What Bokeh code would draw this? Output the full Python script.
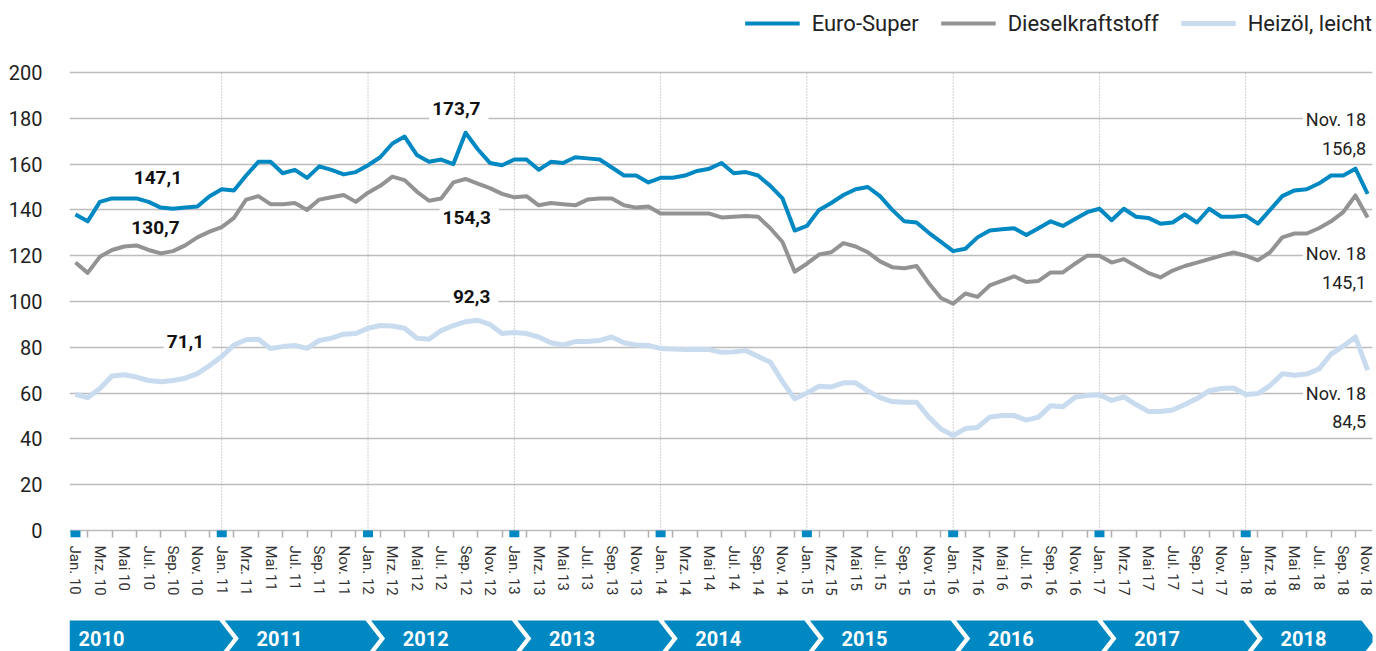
from bokeh.plotting import figure
from bokeh.models import Range1d, FixedTicker, Legend, LegendItem, ColumnDataSource
from bokeh.layouts import column
from bokeh.embed import file_html
from bokeh.resources import INLINE
from bokeh.core.properties import value

# ---------------- data ----------------
years = ["2010", "2011", "2012", "2013", "2014", "2015", "2016", "2017", "2018"]
label_months = ["Jan.", "Mrz.", "Mai", "Jul.", "Sep.", "Nov."]

euro_super = [
    138, 135, 143.5, 145, 145, 145, 143.5, 141, 140.5, 141, 141.5, 146,
    149, 148.5, 155, 161, 161, 156, 157.5, 154, 159, 157.5, 155.5, 156.5,
    159.5, 163, 169, 172, 164, 161, 162, 160, 173.7, 166.5, 160.5, 159.5,
    162, 162, 157.5, 161, 160.5, 163, 162.5, 162, 158.5, 155, 155, 152,
    154, 154, 155, 157, 158, 160.5, 156, 156.5, 155, 150.5, 145, 131,
    133, 140, 143, 146.5, 149, 150, 146, 140, 135, 134.5, 130, 126,
    122, 123, 128, 131, 131.5, 132, 129, 132, 135, 133, 136, 139,
    140.5, 135.5, 140.5, 137, 136.5, 134, 134.5, 138, 134.5, 140.5, 137, 137,
    137.5, 134, 140, 146, 148.5, 149, 151.5, 155, 155, 158, 147,
]
diesel = [
    117, 112.5, 119.5, 122.5, 124, 124.5, 122.5, 121, 122, 124.5, 128, 130.5,
    132.5, 136.5, 144.5, 146, 142.5, 142.5, 143, 140, 144.5, 145.5, 146.5, 143.5,
    147.5, 150.5, 154.5, 153, 148, 144, 145, 152, 153.5, 151.5, 149.5, 147,
    145.5, 146, 142, 143, 142.5, 142, 144.5, 145, 145, 142, 141, 141.5,
    138.4, 138.4, 138.4, 138.4, 138.4, 136.7, 137, 137.3, 137, 132, 126, 113,
    116.5, 120.5, 121.5, 125.5, 124, 121.5, 117.5, 115, 114.5, 115.5, 108, 101.5,
    99, 103.5, 102, 107, 109, 111, 108.5, 109, 112.7, 112.7, 116.5, 120,
    120, 117, 118.5, 115.5, 112.5, 110.5, 113.5, 115.5, 117, 118.5, 120, 121.4,
    120, 118, 121.5, 128, 129.7, 129.7, 132, 135, 139, 146.3, 136.7,
]
heizoel = [
    59.5, 58, 62, 67.5, 68, 67, 65.5, 65, 65.5, 66.5, 68.5, 72,
    76, 81, 83.3, 83.5, 79.5, 80.3, 80.8, 79.5, 83, 84, 85.7, 86,
    88.3, 89.5, 89.3, 88.3, 84, 83.5, 87.3, 89.5, 91.2, 91.8, 90, 86,
    86.5, 86, 84.5, 82, 81, 82.5, 82.5, 83, 84.5, 82, 81, 80.8,
    79.5, 79.2, 79, 79, 79, 77.8, 78, 78.6, 76, 73.5, 65, 57.5,
    60, 63, 62.7, 64.5, 64.5, 61, 58, 56.3, 56, 56, 49.5, 44.3,
    41.5, 44.5, 45, 49.5, 50.2, 50.2, 48.2, 49.5, 54.5, 54, 58.2, 59,
    59.3, 56.8, 58.3, 55, 52, 52, 52.6, 55, 57.6, 61, 62, 62.2,
    59.4, 59.8, 63.3, 68.4, 67.8, 68.3, 70.5, 77, 80.5, 84.5, 70,
]
series_names = ["Euro-Super", "Dieselkraftstoff", "Heizöl, leicht"]
highlight_values = [147.1, 130.7, 173.7, 154.3, 92.3, 71.1]
end_label = "Nov. 18"
end_values = [156.8, 145.1, 84.5]
y_ticks = list(range(0, 201, 20))


def de(v):
    return f"{v:.1f}".replace(".", ",")


# ---------------- styles / layout ----------------
BLUE = "#0088c2"
GRAY = "#939393"
LIGHT = "#c9dcef"
TXT = "#222222"
FONT = "Roboto"
W = 1374
XR = Range1d(-0.49, 106.4)

n = len(euro_super)
months = list(range(n))
jan_idx = [12 * i for i in range(len(years))]

tick_pos = [m for m in months if m % 2 == 0]
tick_labels = {m: f"{label_months[(m % 12) // 2]} {years[m // 12][2:]}" for m in tick_pos}
minor_pos = [m for m in months if m % 2 == 1]

p = figure(width=W, height=600, x_range=XR,
           y_range=Range1d(-3.06, 231.44), output_backend="svg",
           toolbar_location=None, min_border_left=69, min_border_right=2,
           min_border_top=0, min_border_bottom=63)
p.outline_line_color = None

# grid
p.xgrid.grid_line_color = None
p.ygrid.ticker = FixedTicker(ticks=y_ticks)
p.ygrid.grid_line_color = "#bdbdbd"
p.ygrid.grid_line_width = 1.5

# y axis
p.yaxis.ticker = FixedTicker(ticks=y_ticks)
p.yaxis.axis_line_color = None
p.yaxis.major_tick_line_color = None
p.yaxis.minor_tick_line_color = None
p.yaxis.major_label_standoff = 21
p.yaxis.major_label_text_font = FONT
p.yaxis.major_label_text_font_size = "20px"
p.yaxis.major_label_text_color = TXT

# x axis
p.xaxis.ticker = FixedTicker(ticks=tick_pos, minor_ticks=minor_pos)
p.xaxis.major_label_overrides = tick_labels
p.xaxis.major_label_orientation = "vertical"
p.xaxis.axis_line_color = None
p.xaxis.major_tick_line_color = None
p.xaxis.minor_tick_line_color = "#b0b0b0"
p.xaxis.minor_tick_line_width = 1.5
p.xaxis.minor_tick_in = 7
p.xaxis.minor_tick_out = 0
p.xaxis.major_label_standoff = 2
p.xaxis.major_label_text_font = FONT
p.xaxis.major_label_text_font_size = "15px"
p.xaxis.major_label_text_color = "#333333"

# year separators (dotted)
sep = jan_idx[1:]
p.segment(x0=sep, y0=[0] * len(sep), x1=sep, y1=[200] * len(sep),
          line_color="#a0a0a0", line_width=1, line_dash="1 2")

# january markers on the axis
p.quad(left=[j - 0.41 for j in jan_idx], right=[j + 0.41 for j in jan_idx],
       bottom=[-3.06] * len(jan_idx), top=[0] * len(jan_idx),
       fill_color=BLUE, line_color=None)

# highlighted values (bold)
hl_x = [6.97, 6.77, 31.45, 32.3, 32.7, 9.23]
hl_y = [153.1, 131.2, 183.4, 135.4, 100.9, 81.4]
hl_src = ColumnDataSource(dict(x=hl_x, y=hl_y, t=[de(v) for v in highlight_values]))
p.text(x="x", y="y", text="t", source=hl_src, text_font=value(FONT),
       text_font_style="bold", text_font_size="19px", text_color="#111111",
       text_align="center", text_baseline="middle",
       background_fill_color="white", padding=(3, 8, 3, 8))

# end labels: "Nov. 18" line (with white box) and value line
end_x = 105.87
end_y_top = [176.9, 118.6, 57.4]
end_y_val = [166.6, 108.5, 47.4]
p.text(x=[end_x + 0.49] * 3, y=end_y_top, text=[end_label] * 3, text_font=value(FONT),
       text_font_size="18px", text_color=TXT, text_align="right",
       text_baseline="middle", background_fill_color="white",
       padding=(3, 6, 3, 14))
p.text(x=[end_x] * 3, y=end_y_val, text=[de(v) for v in end_values],
       text_font=value(FONT), text_font_size="18px", text_color=TXT,
       text_align="right", text_baseline="middle")

# lines
r_h = p.line(months, heizoel, line_color=LIGHT, line_width=5, line_join="round")
r_d = p.line(months, diesel, line_color=GRAY, line_width=4, line_join="round")
r_e = p.line(months, euro_super, line_color=BLUE, line_width=4, line_join="round")

legend = Legend(items=[LegendItem(label=series_names[0], renderers=[r_e]),
                       LegendItem(label=series_names[1], renderers=[r_d]),
                       LegendItem(label=series_names[2], renderers=[r_h])],
                orientation="horizontal", location="top_right")
legend.border_line_color = None
legend.background_fill_alpha = 0
legend.label_text_font = FONT
legend.label_text_font_size = "22px"
legend.label_text_color = TXT
legend.glyph_width = 55
legend.glyph_height = 46
legend.label_height = 46
legend.label_standoff = 12
legend.spacing = 22
legend.padding = 0
legend.margin = 0
p.add_layout(legend)

# ---------------- year band ----------------
p2 = figure(width=W, height=51, x_range=XR, y_range=Range1d(0, 51),
            output_backend="svg", toolbar_location=None,
            x_axis_location=None, y_axis_location=None,
            min_border_left=69, min_border_right=2, min_border_top=0, min_border_bottom=0)
p2.outline_line_color = None
p2.grid.visible = False

top, bot, mid = 31, -5, 13
xs, ys = [], []
for i in range(len(years)):
    R = 12 * (i + 1) - 0.2 if i < len(years) - 1 else 105.5
    tip = R + 1.15
    if i == 0:
        xs.append([-0.49, R, tip, R, -0.49])
        ys.append([top, top, mid, bot, bot])
    else:
        L = 12 * i - 0.2 + 0.45
        xs.append([L, R, tip, R, L, L + 1.15])
        ys.append([top, top, mid, bot, bot, mid])
p2.patches(xs, ys, fill_color=BLUE, line_color=None)
year_x = [0.25] + [12 * i + 2.85 for i in range(1, len(years))]
p2.text(x=year_x, y=[mid] * len(years), text=years, text_font=value(FONT),
        text_font_style="bold", text_font_size="20px", text_color="white",
        text_baseline="middle", text_align="left")

layout = column(p, p2, spacing=0)
open("out.html", "w").write(file_html(layout, INLINE))
